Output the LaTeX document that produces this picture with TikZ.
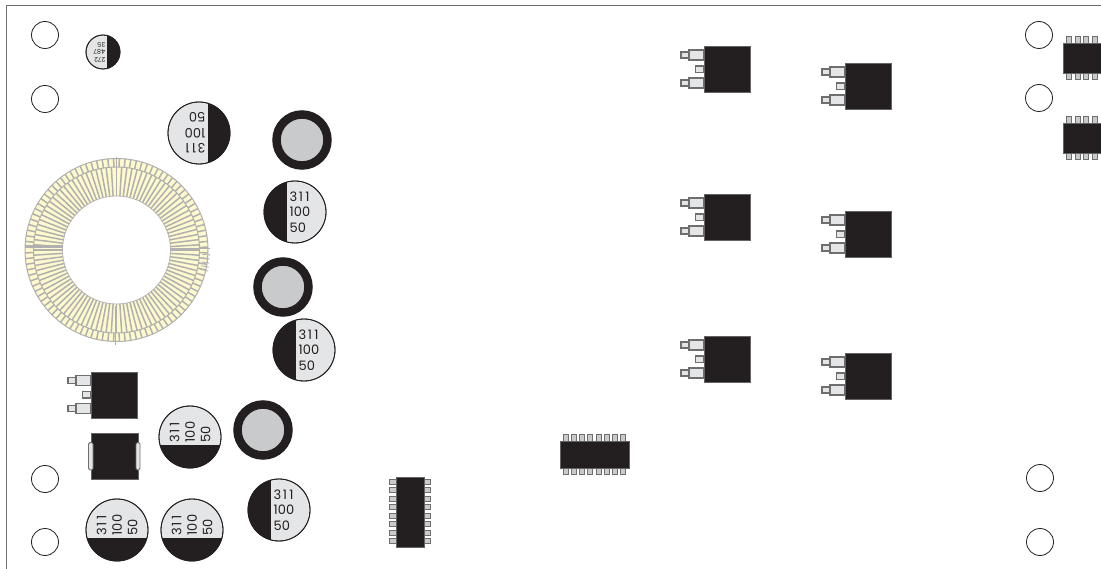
\documentclass[tikz,border=0pt]{standalone}
\usepackage{fontspec}
\setmainfont{Poppins}
\definecolor{blk}{HTML}{231F20}
\definecolor{lgray}{HTML}{E4E5E6}
\definecolor{pad}{HTML}{C9CACB}
\definecolor{rim}{HTML}{6E6E6E}
\definecolor{coil}{HTML}{FFF9CE}
\definecolor{wire}{HTML}{B0B0B0}
\tikzset{
  x=1pt,y=-1pt,
  hole/.style={draw=blk,line width=0.8pt,fill=white},
  body/.style={fill=blk,draw=blk!70,line width=0.4pt},
  lead/.style={fill=lgray,draw=rim,line width=1.2pt},
  pinlead/.style={fill=pad,draw=rim,line width=0.9pt},
  capbody/.style={fill=lgray,draw=blk,line width=0.8pt},
  captext/.style={font=\fontsize{13}{15.5}\selectfont,align=left,text=blk,inner sep=0pt},
  smalltext/.style={font=\fontsize{6.5}{7.5}\selectfont,align=left,text=blk,inner sep=0pt}
}
\newcommand{\capval}{3\kern1.6pt 1\kern2.2pt 1\\100\\50}
\newcommand{\capround}[3]{\draw[capbody] (#1,#2) circle[radius=#3];}
% black half to the left of x-8, text upright
\newcommand{\capleft}[2]{%
  \capround{#1}{#2}{31}
  \begin{scope}
    \clip (#1,#2) circle[radius=31];
    \fill[blk] (#1-40,#2-40) rectangle (#1-8,#2+40);
  \end{scope}
  \draw[blk,line width=0.8pt] (#1,#2) circle[radius=31];
  \node[captext,anchor=west] at (#1-5.5,#2) {\capval};}
% black half below y+8, text reading upwards
\newcommand{\capbelow}[2]{%
  \capround{#1}{#2}{31}
  \begin{scope}
    \clip (#1,#2) circle[radius=31];
    \fill[blk] (#1-40,#2+8) rectangle (#1+40,#2+40);
  \end{scope}
  \draw[blk,line width=0.8pt] (#1,#2) circle[radius=31];
  \node[captext,rotate=90,anchor=west] at (#1,#2+5.5) {\capval};}
\newcommand{\dpak}[2]{%
  \begin{scope}[shift={(#1,#2)}]
    \draw[lead] (-23,5.5) rectangle (-15,11.5);
    \draw[lead] (-23,33.5) rectangle (-15,39.5);
    \draw[lead] (-15,3.5) rectangle (0,13.5);
    \draw[lead] (-15,31.5) rectangle (0,41.5);
    \draw[lead] (-8.5,19.5) rectangle (0,26);
    \draw[body] (0,0) rectangle (46.5,46);
  \end{scope}}
\newcommand{\donut}[2]{%
  \draw[blk,fill=pad,line width=8.5pt] (#1,#2) circle[radius=25.5];}
\begin{document}
\begin{tikzpicture}
\useasboundingbox (0,0) rectangle (1101,569);
\fill[white] (0,0) rectangle (1101,569);
\draw[rim,line width=1pt] (6,569) -- (6,6) -- (1101,6);
% mounting holes
\foreach \hx/\hy in {45/35,45/99,45/479,45/542,1039/35,1039/98,1040/478,1040/542}
  \draw[hole] (\hx,\hy) circle[radius=13.5];
% toroid
\begin{scope}[shift={(116.5,250)}]
  \fill[coil,even odd rule] (0,0) circle[radius=91.5] (0,0) circle[radius=54];
  \foreach \a in {0,3.6,...,359}
    \draw[wire,line width=1.5pt] (\a:54) -- (\a:83);
  \foreach \a in {1.8,5.4,...,359}
    \draw[wire,line width=1.5pt] (\a:83) -- (\a:91.5);
  \draw[wire,line width=1pt] (0,0) circle[radius=91.5];
  \draw[wire,line width=1pt] (0,0) circle[radius=83];
  \draw[wire,line width=0.7pt] (0,0) circle[radius=54];
  \draw[wire,line width=3pt] (-92,-3.5) -- (-54,-3.5);
  \draw[wire,line width=1.5pt] (54,-1.5) -- (93,-1.5);
  \foreach \a in {3,5.5,8,10.5,13}
    \draw[wire,line width=0.8pt] (\a:86) -- (\a:94);
  \draw[wire,line width=1.6pt] (-1,56) -- (-1,95);
  \draw[wire,line width=1.5pt] (0,-93) -- (0,-54);
\end{scope}
% upside-down capacitor
\capround{199}{133}{31}
\begin{scope}
  \clip (199,133) circle[radius=31];
  \fill[blk] (208,90) rectangle (240,170);
\end{scope}
\draw[blk,line width=0.8pt] (199,133) circle[radius=31];
\node[captext,rotate=180,anchor=west] (capflip) at (205.5,133) {\capval};
% capacitors
\capleft{295}{212}
\capleft{304}{350}
\capleft{279}{510}
\capbelow{190}{437}
\capbelow{117}{530}
\capbelow{192}{530}
% small capacitor
\capround{103}{52}{17}
\begin{scope}
  \clip (103,52) circle[radius=17];
  \fill[blk] (107,30) rectangle (125,75);
\end{scope}
\draw[blk,line width=0.8pt] (103,52) circle[radius=17];
\node[smalltext,rotate=180,anchor=west] (smallcap) at (105.5,52) {272\\487\\35};
% electrolytic rings
\donut{302}{140}
\donut{283}{287}
\donut{263}{430}
% DPAKs
\dpak{704}{46.5}
\dpak{845}{63.5}
\dpak{704}{194.5}
\dpak{845}{211.5}
\dpak{704}{336.5}
\dpak{845}{353.5}
\dpak{91}{372}
% power inductor
\draw[body] (91,433) rectangle (138,479);
\draw[fill=lgray,draw=rim,line width=0.8pt,rounded corners=1.5pt] (88.5,442.5) rectangle (93,470);
\draw[fill=lgray,draw=rim,line width=0.8pt,rounded corners=1.5pt] (136,442.5) rectangle (140,470);
% SOIC vertical
\foreach \i in {0,...,7} {
  \pgfmathsetmacro{\py}{482+8.43*\i}
  \draw[pinlead] (389.5,\py-2.5) rectangle (396,\py+2.5);
  \draw[pinlead] (424,\py-2.5) rectangle (430.5,\py+2.5);
}
\draw[body] (396,477) rectangle (424,547);
% SOIC horizontal
\foreach \i in {0,...,7} {
  \pgfmathsetmacro{\px}{566+8.14*\i}
  \draw[pinlead] (\px-2.5,434.5) rectangle (\px+2.5,441);
  \draw[pinlead] (\px-2.5,468) rectangle (\px+2.5,474.5);
}
\draw[body] (560,441) rectangle (629,468);
% SO8 at right edge
\foreach \oy in {43,123} {
  \foreach \px in {1069,1077.5,1086,1094.5} {
    \draw[pinlead] (\px-2.5,\oy-6.5) rectangle (\px+2.5,\oy);
    \draw[pinlead] (\px-2.5,\oy+30) rectangle (\px+2.5,\oy+36.5);
  }
  \draw[body] (1063,\oy) rectangle (1103,\oy+30);
}
\end{tikzpicture}
\end{document}
